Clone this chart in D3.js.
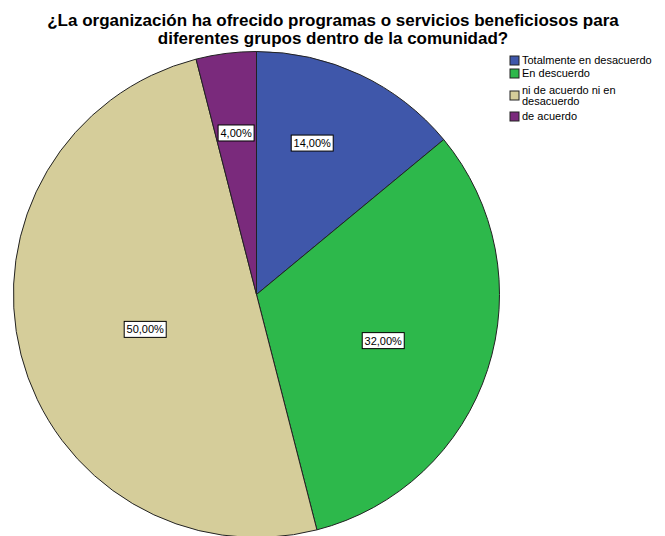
<!DOCTYPE html>
<html>
<head>
<meta charset="utf-8">
<script src="https://cdn.jsdelivr.net/npm/d3@7"></script>
<style>
  body { margin: 0; background: #fff; }
  text { font-family: "Liberation Sans", Arial, sans-serif; }
</style>
</head>
<body>
<div id="chart"></div>
<script>
(function() {
  // Chart data.
  var titleLines = [
    "¿La organización ha ofrecido programas o servicios beneficiosos para",
    "diferentes grupos dentro de la comunidad?"
  ];
  var categories = ["Totalmente en desacuerdo", "En descuerdo", "ni de acuerdo ni en desacuerdo", "de acuerdo"];
  var legendLines = [["Totalmente en desacuerdo"], ["En descuerdo"], ["ni de acuerdo ni en", "desacuerdo"], ["de acuerdo"]];
  var percents = [14, 32, 50, 4];
  var colors = ["#3f57aa", "#2db84b", "#d5cd9a", "#7a2a7c"];

  var width = 665,
      height = 536;

  var svg = d3.select("#chart")
    .append("svg")
      .attr("width", width)
      .attr("height", height);

  // Title.
  svg.append("g")
    .selectAll("text")
    .data(titleLines)
    .enter()
    .append("text")
      .attr("x", 333)
      .attr("y", function(d, i) { return 26 + i * 18; })
      .attr("text-anchor", "middle")
      .style("font-size", "17px")
      .style("font-weight", "bold")
      .text(function(d) { return d; });

  // Pie.
  var cx = 256.5, cy = 294.5, radius = 243;
  var pie = d3.pie().sort(null).value(function(d) { return d; });
  var arc = d3.arc().innerRadius(0).outerRadius(radius);
  var arcs = pie(percents);

  var g = svg.append("g")
    .attr("transform", "translate(" + cx + "," + cy + ")");

  g.selectAll("path")
    .data(arcs)
    .enter()
    .append("path")
      .attr("d", arc)
      .attr("fill", function(d, i) { return colors[i]; })
      .attr("stroke", "#222")
      .attr("stroke-width", 1);

  // Labels: placed along each slice, SPSS puts them at slightly different depths.
  var labelRadius = [0.664, 0.555, 0.48, 0.67];
  var labelShift = [-5, 2, -3, 0]; // small angular nudge, degrees
  var fmt = function(v) { return d3.format(".2f")(v).replace(".", ",") + "%"; };

  var labels = g.selectAll("g.label")
    .data(arcs)
    .enter()
    .append("g")
      .attr("class", "label")
      .attr("transform", function(d, i) {
        var a = (d.startAngle + d.endAngle) / 2 + labelShift[i] * Math.PI / 180;
        var r = radius * labelRadius[i];
        return "translate(" + (r * Math.sin(a)) + "," + (-r * Math.cos(a)) + ")";
      });

  var labelRects = labels.append("rect")
    .attr("fill", "#fff")
    .attr("stroke", "#000")
    .attr("stroke-width", 1);

  labels.append("text")
    .attr("text-anchor", "middle")
    .attr("dy", "0.36em")
    .style("font-size", "11px")
    .text(function(d) { return fmt(d.data); });

  labelRects.each(function() {
    var t = d3.select(this.parentNode).select("text").node();
    var w = Math.round(t.getComputedTextLength()) + 5;
    d3.select(this)
      .attr("x", -w / 2)
      .attr("y", -8)
      .attr("width", w)
      .attr("height", 16);
  });

  // Legend.
  var legendY = [56, 69, 91, 112];
  var legend = svg.append("g")
    .attr("transform", "translate(510,0)");

  var items = legend.selectAll("g")
    .data(categories)
    .enter()
    .append("g")
      .attr("transform", function(d, i) { return "translate(0," + legendY[i] + ")"; });

  items.append("rect")
    .attr("width", 9)
    .attr("height", 9)
    .attr("fill", function(d, i) { return colors[i]; })
    .attr("stroke", "#222")
    .attr("stroke-width", 1);

  items.append("text")
    .attr("y", function(d, i) { return 8 - (legendLines[i].length - 1) * 5.5; })
    .style("font-size", "11px")
    .selectAll("tspan")
    .data(function(d, i) { return legendLines[i]; })
    .enter()
    .append("tspan")
      .attr("x", 12)
      .attr("dy", function(d, j) { return j === 0 ? 0 : 11; })
      .text(function(d) { return d; });
})();
</script>
</body>
</html>
